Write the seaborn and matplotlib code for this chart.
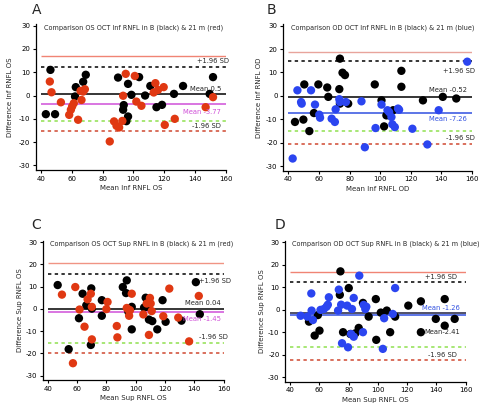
import matplotlib
matplotlib.use("Agg")
import matplotlib.pyplot as plt
import seaborn as sns
import pandas as pd

# ---------------- data ----------------
# Panel A: OS Inf RNFL
A_black_x = [43, 46, 49, 62.5, 62, 67.3, 69, 90, 93.7, 93.3, 96.5, 96.5, 98.7, 95.4, 103.7, 107.6, 111, 115, 118.6, 126.4, 132.3, 149.6, 151.8]
A_black_y = [-8, 11, -8, 3.6, -0.4, 5.9, 8.9, 7.7, -4.1, -6.1, 5, -9, 0.3, -11, 7.9, 0, 4.1, -5, -4, 0.7, 4.1, 0.7, 7.9]
A_red_x = [45.6, 46.7, 52.8, 58.2, 59.3, 60.1, 61.2, 64, 65.6, 66.2, 68.4, 67.3, 84.6, 87.4, 89, 90.7, 92.8, 93.3, 95, 100.9, 101.9, 105.2, 113.2, 114.3, 116, 119.7, 120.4, 126.9, 147, 151.8]
A_red_y = [6, 1.4, -2.9, -8.3, -6.1, -4.7, -3.3, -10.4, 2, -1.9, 2.7, 1.7, -19.7, -11.1, -13, -13.7, -10.9, -0.1, 9.3, 8.4, -2.6, -4.4, 1.3, 5.3, 2.4, 3.6, -12.6, -10, -5, -0.7]
A_lines = [16.8, 12.2, 0.5, -3.77, -11.0, -15.2]

# Panel B: OD Inf RNFL
B_black_x = [44.3, 49.8, 50.4, 53.7, 56.7, 59.6, 65.4, 66.1, 73.3, 73.7, 73.7, 75.4, 77, 79.1, 96.5, 100.9, 102.6, 104.1, 108.5, 113.9, 113.9, 128, 141, 149.8]
B_black_y = [-11.1, -10.1, 4.9, -15, -7.3, 4.9, 3.6, -0.4, 2.9, 15.9, -3.3, 9.9, 8.9, -3.3, 4.9, -1.9, -13, -8.3, -6.1, 10.7, 3.9, -1.9, -0.4, -1.1]
B_blue_x = [42.8, 45.9, 48.3, 48.7, 54.8, 57.4, 60.2, 60.7, 68.3, 70.4, 70.9, 73.3, 73.7, 77.6, 87.8, 90, 97, 100.9, 104.8, 105.9, 107.4, 108, 109.6, 111.7, 112.4, 121.1, 130.9, 138.3, 157]
B_blue_y = [-26.7, 2.4, -2.6, -3.3, 2.4, -3.7, -8, -9.3, -9.7, -11.1, -5.7, -1.4, -2.6, -2.6, -2.3, -21.9, -13.7, -3.7, -6.1, -6.9, -9, -12.1, -13.3, -5.4, -5.9, -14, -20.7, -6.1, 14.6]
B_lines = [18.9, 14.9, -0.52, -7.26, -15.1, -20.4]

# Panel C: OS Sup RNFL
C_black_x = [46.8, 54.3, 61.3, 63.8, 66.3, 69.7, 69.4, 70.1, 76.9, 76.9, 91.2, 93.9, 93.4, 95, 97.3, 97.3, 105.7, 106.8, 107.5, 109, 111.3, 114.7, 118.3, 120.4, 131.2, 141, 143.7]
C_black_y = [10.7, -18.1, -4.2, 6.8, 1.6, 9.2, -16.2, 0.1, 3.9, -3.1, 9.8, 12.8, 7.1, -1.3, 0.9, -9.2, 0.6, 5, 0.9, -4.8, -5.5, -9.2, 3.9, -5.8, -5.3, 12, -2.4]
C_red_x = [49.7, 58.8, 61.7, 57.2, 65.1, 67.2, 69.4, 70.1, 70.1, 80.8, 80, 87.1, 87.5, 93.9, 95, 96.1, 95.5, 97.3, 105.2, 107.5, 109, 109.7, 110.2, 110.9, 122.9, 118.8, 129, 136.4, 143]
C_red_y = [6.4, 9.8, -0.3, -24.4, -8, 4.3, 6.8, 0.9, -13.7, 3.1, -0.1, -7.7, -12.8, 0.4, -0.3, -0.6, -3.1, 6.8, -2.5, 2.4, -11.7, 4.9, 2.4, -1, 9.1, -3.3, -3.9, -14.6, 5.8]
C_lines = [20.8, 15.6, 0.04, -1.45, -15.4, -20.0]

# Panel D: OD Sup RNFL
D_black_x = [52.9, 56.8, 59, 60.1, 74.4, 74, 76.2, 80.1, 81.2, 84.6, 86.9, 89.8, 93.7, 98.6, 98.9, 102, 106.1, 108.4, 111.8, 120.8, 129.4, 129.4, 139.6, 145.7, 145.7, 152.5]
D_black_y = [-5.3, -11.5, -2.4, -9.3, 17, 6.6, -10, 9.6, -10.8, -10.5, -8.1, 3, -3.1, 4.7, -13.4, -1.3, -0.4, -10, -3.1, 1.8, 3.7, -10, -4.1, 4.7, -7.1, -4.1]
D_blue_x = [47.2, 51.8, 54.5, 54.7, 55.6, 60.8, 63.1, 64.9, 66.5, 65.8, 73.3, 72.8, 74.9, 75.5, 79, 79.6, 82.3, 83.5, 81.7, 83.5, 87.3, 89.8, 90.3, 91.4, 92.1, 104.3, 103.4, 111.8, 110.2]
D_blue_y = [-2.7, -3.1, 7.2, -0.4, -4.6, -0.1, 0.3, 1.3, 5.5, 2.2, 8.9, -0.4, 2.2, -14.9, 1.8, -16.7, 0.3, 5.2, -10.8, -12, 15.1, -10, 2.1, 0.3, 1.3, -3.8, -17.4, 9.6, -1.9]
D_lines = [16.8, 12.1, -1.26, -2.41, -16.7, -22.2]

titles = ["Comparison OS OCT Inf RNFL in B (black) & 21 m (red)",
          "Comparison OD OCT Inf RNFL in B (black) & 21 m (blue)",
          "Comparison OS OCT Sup RNFL in B (black) & 21 m (red)",
          "Comparison OD OCT Sup RNFL in B (black) & 21 m (blue)"]
xlabels = ["Mean Inf RNFL OS", "Mean Inf RNFL OD", "Mean Sup RNFL OS", "Mean Sup RNFL OS"]
ylabels = ["Difference Inf RNFL OS", "Difference Inf RNFL OD", "Difference Sup RNFL OS", "Difference Sup RNFL OS"]
letters = ["A", "B", "C", "D"]
mean_labels = [("Mean 0.5", "Mean -3.77"), ("Mean -0.52", "Mean -7.26"),
               ("Mean 0.04", "Mean -1.45"), ("Mean-2.41", "Mean -1.26")]

# ---------------- style ----------------
sns.set_theme(style="ticks")
plt.rcParams["font.family"] = ["DejaVu Sans"]
plt.rcParams["axes.unicode_minus"] = False

RED = "#e03812"
BLUE = "#2b45f0"
LIGHTRED = ["#f08474", "#e8a49c", "#f09484", "#f08474"]
MAGENTA = "#d050d8"
MEANBLUE = "#3050e0"
GREEN = "#90e050"
DRED = "#d04830"

fig = plt.figure(figsize=(4.8, 4.07), dpi=100)

rects = [[0.075, 0.582, 0.396, 0.358],
         [0.590, 0.580, 0.394, 0.360],
         [0.089, 0.066, 0.378, 0.342],
         [0.594, 0.062, 0.377, 0.346]]

panels = [
    (A_black_x, A_black_y, A_red_x, A_red_y, RED, A_lines),
    (B_black_x, B_black_y, B_blue_x, B_blue_y, BLUE, B_lines),
    (C_black_x, C_black_y, C_red_x, C_red_y, RED, C_lines),
    (D_black_x, D_black_y, D_blue_x, D_blue_y, BLUE, D_lines),
]

text_pos = [
    [(162, 14.6), (157, 3.0), (157, -7.1), (157, -13.0)],
    [(162, 10.7), (157, 2.4), (157, -10.0), (162, -17.9)],
    [(165, 12.6), (158, 2.5), (158, -4.4), (163, -12.5)],
    [(154, 14.6), (156.5, -10.0), (156, 0.6), (154, -20.0)],
]
letter_pos = [(0.066, 0.975), (0.555, 0.975), (0.066, 0.447), (0.572, 0.447)]
ylabel_pads = [4.5, 3.0, 2.0, 2.5]

for i, (bx, by, cx, cy, col, lines) in enumerate(panels):
    ax = fig.add_axes(rects[i])
    up, sd_up, m_black, m_col, sd_lo_col, sd_lo = lines
    mcol = MAGENTA if col == RED else MEANBLUE
    ax.hlines(up, 40, 160, color=LIGHTRED[i], lw=1.0, zorder=1)
    ax.hlines(sd_up, 40, 160, color="black", lw=1.1, linestyles=(0, (2.2, 2.2)), zorder=1)
    ax.hlines(m_col, 40, 160, color=mcol, lw=1.1, zorder=1)
    ax.hlines(m_black, 40, 160, color="black" if i < 3 else "#202040", lw=1.1, zorder=1)
    ax.hlines(sd_lo_col, 40, 160, color=GREEN, lw=1.1, linestyles=(0, (2.2, 2.2)), zorder=1)
    ax.hlines(sd_lo, 40, 160, color=DRED, lw=1.1, linestyles=(0, (2.2, 2.2)), zorder=1)

    dfb = pd.DataFrame({"x": bx, "y": by})
    dfc = pd.DataFrame({"x": cx, "y": cy})
    sns.scatterplot(data=dfb, x="x", y="y", ax=ax, color="black", s=36,
                    edgecolor="none", linewidth=0, zorder=3)
    sns.scatterplot(data=dfc, x="x", y="y", ax=ax, color=col, s=36,
                    edgecolor="none", linewidth=0, zorder=4)

    ax.set_xlim(36.6, 160.3)
    ax.set_ylim(-32, 30.5)
    ax.set_xticks([40, 60, 80, 100, 120, 140, 160])
    ax.set_yticks([-30, -20, -10, 0, 10, 20, 30])
    ax.tick_params(labelsize=5, length=2.5, width=0.8, pad=1.5, colors="black")
    for s in ("left", "bottom"):
        ax.spines[s].set_linewidth(0.9)
        ax.spines[s].set_color("black")
    sns.despine(ax=ax)
    ax.set_xlabel(xlabels[i], fontsize=5, labelpad=2.5)
    ax.set_ylabel(ylabels[i], fontsize=5, labelpad=ylabel_pads[i])

    ax.text(41.5, 29.2, titles[i], fontsize=4.7, va="center", ha="left", zorder=5)
    tp = text_pos[i]
    ax.text(tp[0][0], tp[0][1], "+1.96 SD", fontsize=4.9, ha="right", va="center", zorder=5)
    ax.text(tp[1][0], tp[1][1], mean_labels[i][0], fontsize=4.9, ha="right", va="center", zorder=5)
    ax.text(tp[2][0], tp[2][1], mean_labels[i][1], fontsize=4.9, ha="right", va="center", color=mcol, zorder=5)
    ax.text(tp[3][0], tp[3][1], "-1.96 SD", fontsize=4.9, ha="right", va="center", zorder=5)
    for t in ax.texts:
        t.set_clip_on(False)

    fig.text(letter_pos[i][0], letter_pos[i][1], letters[i], fontsize=10, ha="left", va="center")

fig.savefig("out.png", dpi=100)
